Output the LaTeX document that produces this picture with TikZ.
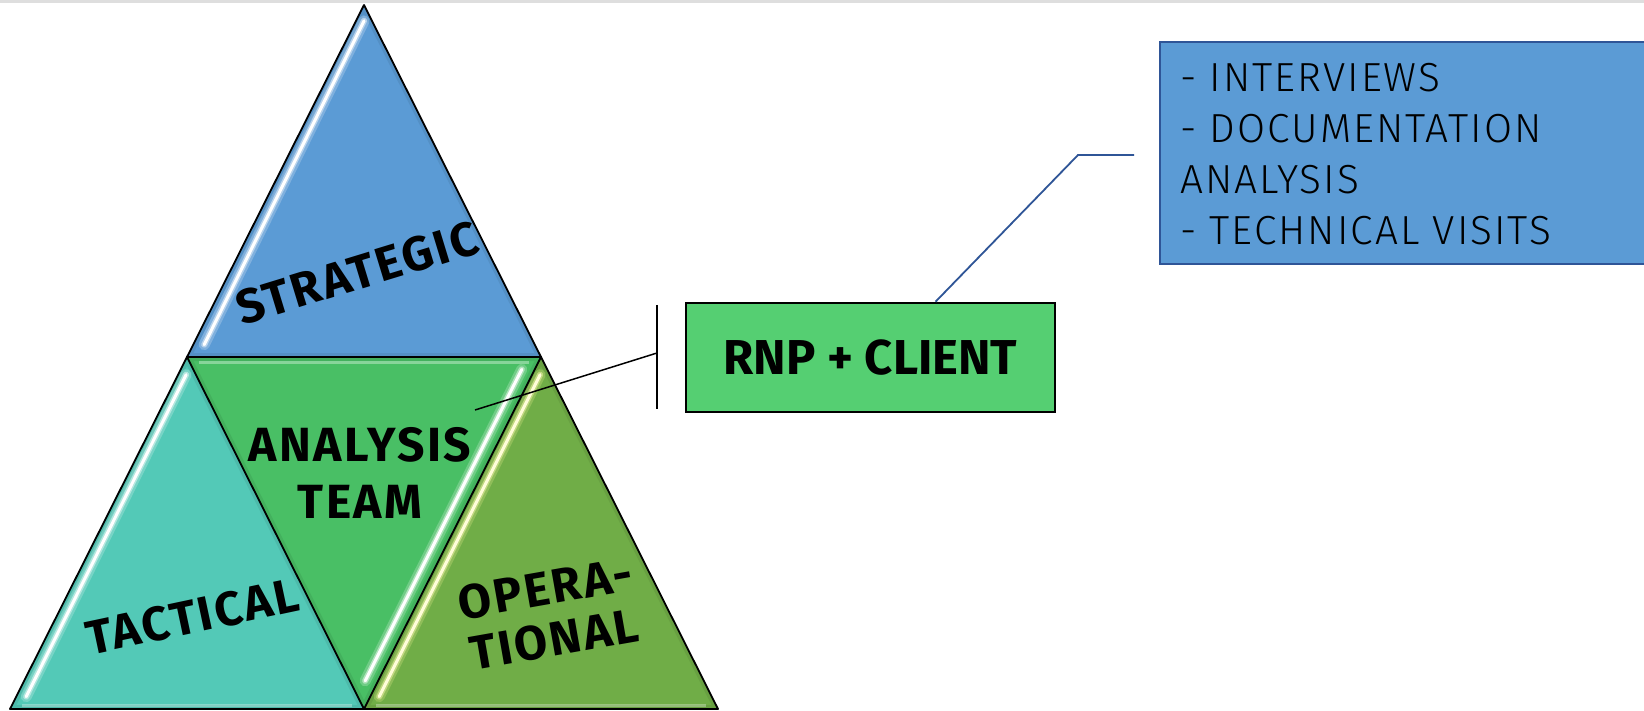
\documentclass[tikz,border=0pt]{standalone}
\usepackage{fontspec}
\setmainfont{Fira Sans}
\newfontfamily\tierfont{Fira Sans}[LetterSpace=5]
\newfontfamily\lightfont{Fira Sans Light}[LetterSpace=5]
\usetikzlibrary{calc}

\definecolor{stratblue}{HTML}{5B9BD5}
\definecolor{tactteal}{HTML}{53C9B7}
\definecolor{teamgreen}{HTML}{49BF65}
\definecolor{opgreen}{HTML}{70AD47}
\definecolor{rnpgreen}{HTML}{55CF72}
\definecolor{navy}{HTML}{2F5597}
\definecolor{rulegray}{HTML}{DEDEDE}

\begin{document}
\begin{tikzpicture}[x=1pt,y=-1pt,
  facet/.style={draw=black, line width=1.8pt, line join=round},
  innershade/.style={line width=8pt, black, opacity=0.07},
  haze/.style={line cap=round, white, opacity=0.22, line width=11pt},
  glow/.style={line cap=round, white, opacity=0.45, line width=6pt},
  shine/.style={line cap=round, white, line width=3pt},
  tierlabel/.style={font=\tierfont\bfseries\fontsize{48}{57}\selectfont, align=center, text=black, inner sep=0pt},
  rnpbox/.style={draw=black, line width=2.5pt, fill=rnpgreen, minimum width=369pt,
    minimum height=109pt, inner sep=0pt, font=\bfseries\fontsize{49}{59}\selectfont},
  methodbox/.style={draw=navy, line width=2pt, fill=stratblue, minimum width=520pt,
    minimum height=222pt, inner sep=0pt},
  methodtext/.style={font=\lightfont\fontsize{40.6}{51}\selectfont, align=left, inner sep=0pt},
  leader/.style={draw=black, line width=1.5pt},
  navyline/.style={draw=navy, line width=1.8pt, line join=miter}
]
\useasboundingbox (0,0) rectangle (1644,711);
\fill[white] (0,0) rectangle (1644,711);

% thin rule along the top
\draw[rulegray, line width=2.5pt] (0,1.5) -- (1644,1.5);

% corner points of the pyramid
\coordinate (apex) at (364,5);
\coordinate (ml) at (187,357);
\coordinate (mr) at (541,357);
\coordinate (bl) at (10,709);
\coordinate (mb) at (364,709);
\coordinate (br) at (718,709);

% four facets
\fill[stratblue] (apex) -- (ml) -- (mr) -- cycle;
\fill[tactteal] (ml) -- (bl) -- (mb) -- cycle;
\fill[teamgreen] (ml) -- (mr) -- (mb) -- cycle;
\fill[opgreen] (mr) -- (mb) -- (br) -- cycle;

% bevel: inner shade plus a glossy streak on each facet
\begin{scope}
  \clip (apex) -- (ml) -- (mr) -- cycle;
  \draw[innershade] (apex) -- (ml) -- (mr) -- cycle;
  \foreach \s in {haze,glow,shine}
    \draw[\s] ($(apex)!0.045!(ml)+(8,0)$) -- ($(apex)!0.965!(ml)+(11,0)$);
\end{scope}
\begin{scope}
  \clip (ml) -- (bl) -- (mb) -- cycle;
  \draw[innershade] (ml) -- (bl) -- (mb) -- cycle;
  \draw[white, opacity=0.3, line width=3pt] ($(bl)+(12,-4)$) -- ($(mb)+(-12,-4)$);
  \foreach \s in {haze,glow,shine}
    \draw[\s] ($(ml)!0.05!(bl)+(8,0)$) -- ($(ml)!0.965!(bl)+(10,0)$);
\end{scope}
\begin{scope}
  \clip (ml) -- (mr) -- (mb) -- cycle;
  \draw[innershade] (ml) -- (mr) -- (mb) -- cycle;
  \draw[white, opacity=0.35, line width=3pt] ($(ml)+(12,5)$) -- ($(mr)+(-12,5)$);
  \foreach \s in {haze,glow,shine}
    \draw[\s] ($(mr)!0.035!(mb)+(-13,0)$) -- ($(mr)!0.92!(mb)+(-13,0)$);
\end{scope}
\begin{scope}
  \clip (mr) -- (mb) -- (br) -- cycle;
  \draw[innershade] (mr) -- (mb) -- (br) -- cycle;
  \draw[white, opacity=0.3, line width=3pt] ($(mb)+(12,-4)$) -- ($(br)+(-12,-4)$);
  \draw[haze, yellow!40!white] ($(mr)!0.05!(mb)+(8,0)$) -- ($(mr)!0.965!(mb)+(9,0)$);
  \draw[glow, yellow!30!white] ($(mr)!0.05!(mb)+(8,0)$) -- ($(mr)!0.965!(mb)+(9,0)$);
  \draw[shine, yellow!15!white] ($(mr)!0.05!(mb)+(8,0)$) -- ($(mr)!0.965!(mb)+(9,0)$);
\end{scope}

% facet outlines
\draw[facet] (apex) -- (bl) -- (br) -- cycle;
\draw[facet] (ml) -- (mr) -- (mb) -- cycle;

% facet labels
\node[tierlabel, rotate=17] (strategic) at (357,273) {STRATEGIC};
\node[tierlabel, rotate=12] (tactical) at (192.5,616.6) {TACTICAL};
\node[tierlabel] (team) at (360,473) {ANALYSIS\\TEAM};
\node[tierlabel, rotate=10, font=\tierfont\bfseries\fontsize{48}{52}\selectfont] (operational) at (550,614) {OPERA-\\TIONAL};

% partner box and its bracket
\node[rnpbox] (rnp) at (870.5,357.5) {RNP + CLIENT};
\coordinate (bartop) at (657,305);
\coordinate (barbot) at (657,409);
\coordinate (barmid) at (657,353);
\coordinate (teamtip) at (475,410);
\draw[leader] (bartop) -- (barbot);
\draw[leader] (teamtip) -- (barmid);

% methods box, running off the right edge
\node[methodbox, anchor=north west] (methods) at (1159,41) {};
\node[methodtext, anchor=north west] (methodlist) at (1180,63)
  {- INTERVIEWS\\- DOCUMENTATION\\ANALYSIS\\- TECHNICAL VISITS};

% callout from the partner box to the methods box
\coordinate (elbow) at (1078,155);
\coordinate (methodtip) at (1134,155);
\draw[navyline] ($(rnp.north west)!0.675!(rnp.north east)$) -- (elbow) -- (methodtip);
\end{tikzpicture}
\end{document}
